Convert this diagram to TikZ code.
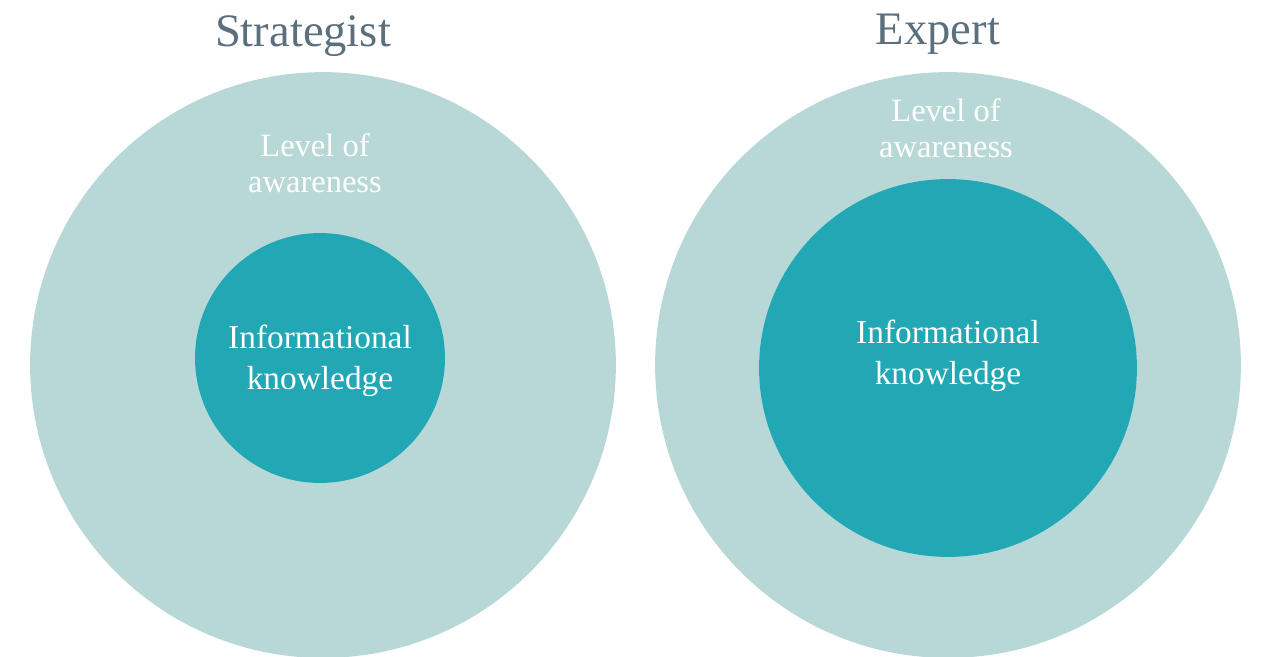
\documentclass[tikz,border=0pt]{standalone}
\usepackage{fontspec}
\setmainfont{Liberation Serif}
\definecolor{outerc}{HTML}{B8D8D8}
\definecolor{innerc}{HTML}{22A7B4}
\definecolor{titlec}{HTML}{5B6F7C}
\begin{document}
\begin{tikzpicture}[x=0.02cm,y=-0.02cm,
  outer/.style={circle,fill=outerc,draw=none,minimum size=#1*0.04cm,inner sep=0pt},
  inner/.style={circle,fill=innerc,draw=none,minimum size=#1*0.04cm,inner sep=0pt},
  title/.style={text=titlec,font=\fontsize{26.5}{30}\selectfont},
  lbl/.style={text=white,align=center,font=\fontsize{18.5}{20.3}\selectfont},
  ilbl/.style={text=white,align=center,font=\fontsize{19}{23.3}\selectfont}]
\useasboundingbox (0,0) rectangle (1261,656);
\begin{scope}
\clip (0,0) rectangle (1261,656);
\node[outer=293] (o1) at (323,365) {};
\node[outer=293] (o2) at (948,365) {};
\end{scope}
\node[inner=125] (i1) at (320,358) {};
\node[inner=189] (i2) at (948,368) {};
\node[title] (t1) at (303,36) {Strategist};
\node[title] (t2) at (938,34) {Expert};
\node[lbl] (l1) at (315,163) {Level of\\awareness};
\node[lbl] (l2) at (946,128) {Level of\\awareness};
\node[ilbl] (k1) at (320,361) {Informational\\knowledge};
\node[ilbl] (k2) at (948,356) {Informational\\knowledge};
\end{tikzpicture}
\end{document}
